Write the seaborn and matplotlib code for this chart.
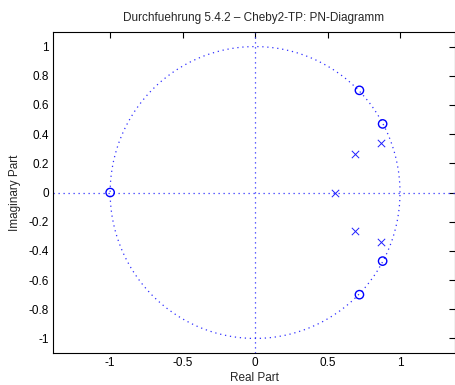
import seaborn as sns
import matplotlib.pyplot as plt
import pandas as pd
import numpy as np

## PN-Diagramm (Cheby2-TP) - Pole/Nullstellen

zeros_re = [-1.0, 0.72, 0.72, 0.88, 0.88]
zeros_im = [0.0, 0.70, -0.70, 0.47, -0.47]
poles_re = [0.55, 0.69, 0.69, 0.87, 0.87]
poles_im = [0.0, 0.265, -0.265, 0.34, -0.34]

xticks = [-1, -0.5, 0, 0.5, 1]
yticks = [-1, -0.8, -0.6, -0.4, -0.2, 0, 0.2, 0.4, 0.6, 0.8, 1]

sns.set_style("white")
plt.rcParams['font.family'] = ['Liberation Sans', 'DejaVu Sans']

fig = plt.figure(figsize=(4.56, 3.85), dpi=100)
ax = fig.add_axes([0.116, 0.083, 0.882, 0.834])

# unit circle + axes, sparse dotted like matlab
dots = (0, (1, 3))
t = np.linspace(0, 2 * np.pi, 400)
ax.plot(np.cos(t), np.sin(t), ls=dots, color='#3030ff', lw=0.9)
ax.axhline(0, ls=dots, color='#3030ff', lw=0.9)
ax.axvline(0, ls=dots, color='#3030ff', lw=0.9)

zdf = pd.DataFrame({'re': zeros_re, 'im': zeros_im})
pdf = pd.DataFrame({'re': poles_re, 'im': poles_im})

sns.scatterplot(x='re', y='im', data=zdf, ax=ax, marker='o', s=36,
                facecolor='none', edgecolor='blue', linewidth=1.0, zorder=3)
sns.scatterplot(x='re', y='im', data=pdf, ax=ax, marker='x', s=28,
                color='#2020ff', linewidth=0.7, zorder=3)

ax.set_xlim(-1.395, 1.38)
ax.set_ylim(-1.1, 1.1)
ax.set_xticks(xticks)
ax.set_xticklabels(['-1', '-0.5', '0', '0.5', '1'])
ax.set_yticks(yticks)
ax.set_yticklabels(['-1', '-0.8', '-0.6', '-0.4', '-0.2', '0', '0.2', '0.4', '0.6', '0.8', '1'])
ax.tick_params(direction='in', length=4, width=0.8, top=True, right=True,
               labelsize=8.5, colors='black', pad=3)
for s in ax.spines.values():
    s.set_color('black')
    s.set_linewidth(0.8)

ax.set_xlabel('Real Part', fontsize=8.5, labelpad=2)
ax.set_ylabel('Imaginary Part', fontsize=8.5, labelpad=5)
ax.set_title('Durchfuehrung 5.4.2 \u2013 Cheby2-TP: PN-Diagramm', fontsize=8.5, pad=8)

fig.savefig('out.png', dpi=100)
